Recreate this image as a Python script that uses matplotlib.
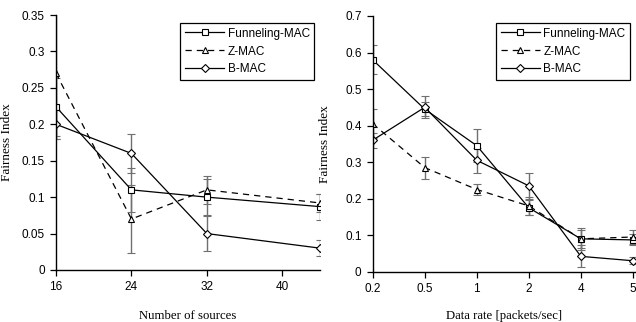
import matplotlib
matplotlib.use("Agg")
import matplotlib.pyplot as plt

# left panel: fairness vs number of sources
sources = [16, 24, 32, 44]
src_funnel = [0.224, 0.110, 0.100, 0.087]
src_funnel_err = [0.040, 0.030, 0.025, 0.018]
src_zmac = [0.270, 0.070, 0.110, 0.092]
src_zmac_err = [0.090, 0.047, 0.019, 0.012]
src_bmac = [0.200, 0.160, 0.050, 0.030]
src_bmac_err = [0.020, 0.027, 0.024, 0.011]

# right panel: fairness vs data rate
rates = ["0.2", "0.5", "1", "2", "4", "5"]
rate_funnel = [0.580, 0.445, 0.345, 0.175, 0.090, 0.087]
rate_funnel_err = [0.040, 0.020, 0.045, 0.020, 0.030, 0.015]
rate_zmac = [0.405, 0.285, 0.225, 0.180, 0.090, 0.095]
rate_zmac_err = [0.040, 0.030, 0.015, 0.025, 0.025, 0.020]
rate_bmac = [0.360, 0.450, 0.305, 0.235, 0.042, 0.030]
rate_bmac_err = [0.020, 0.030, 0.035, 0.035, 0.030, 0.010]

labels = ["Funneling-MAC", "Z-MAC", "B-MAC"]
markers = ["s", "^", "D"]
styles = ["-", (0, (5, 4)), "-"]
msizes = [4.5, 5, 4]

SANS = "Liberation Sans"
SERIF = "Liberation Serif"


def draw_series(ax, x, y, err, marker, ls, ms, label):
    eb = ax.errorbar(x, y, yerr=err, color="black", lw=0.9, ls=ls,
                     marker=marker, ms=ms, mfc="white", mec="black", mew=0.8,
                     ecolor="#707070", elinewidth=1.0, capsize=3, capthick=1.0,
                     label=label)
    for cap in eb[1]:
        cap.set_color("black")
    return eb


def style_axes(ax):
    ax.spines["top"].set_visible(False)
    ax.spines["right"].set_visible(False)
    ax.spines["left"].set_linewidth(1.0)
    ax.spines["bottom"].set_linewidth(1.0)
    ax.tick_params(direction="out", length=4, width=0.9, pad=4, labelsize=8.5)
    for t in ax.get_xticklabels() + ax.get_yticklabels():
        t.set_fontfamily(SANS)


fig = plt.figure(figsize=(6.36, 3.22), dpi=100)
ax1 = fig.add_axes([56 / 636, 1 - 270 / 322, 264 / 636, 255 / 322])
ax2 = fig.add_axes([372.7 / 636, 1 - 271.7 / 322, 263.3 / 636, 255.7 / 322])

for vals, errs, m, ls, ms, lab in zip([src_funnel, src_zmac, src_bmac],
                                      [src_funnel_err, src_zmac_err, src_bmac_err],
                                      markers, styles, msizes, labels):
    draw_series(ax1, sources, vals, errs, m, ls, ms, lab)

xi = list(range(len(rates)))
for vals, errs, m, ls, ms, lab in zip([rate_funnel, rate_zmac, rate_bmac],
                                      [rate_funnel_err, rate_zmac_err, rate_bmac_err],
                                      markers, styles, msizes, labels):
    draw_series(ax2, xi, vals, errs, m, ls, ms, lab)

ax1.set_xlim(16, 44)
ax1.set_ylim(0, 0.35)
ax1.set_xticks([16, 24, 32, 40])
ax1.set_yticks([0, 0.05, 0.1, 0.15, 0.2, 0.25, 0.3, 0.35])
ax1.set_yticklabels(["0", "0.05", "0.1", "0.15", "0.2", "0.25", "0.3", "0.35"])

ax2.set_xlim(0, 5.06)
ax2.set_ylim(0, 0.7)
ax2.set_xticks(xi)
ax2.set_xticklabels(rates)
ax2.set_yticks([0, 0.1, 0.2, 0.3, 0.4, 0.5, 0.6, 0.7])
ax2.set_yticklabels(["0", "0.1", "0.2", "0.3", "0.4", "0.5", "0.6", "0.7"])

for ax in (ax1, ax2):
    style_axes(ax)
    ax.set_ylabel("Fairness Index", fontfamily=SERIF, fontsize=9.5)

ax1.set_xlabel("Number of sources", fontfamily=SERIF, fontsize=9.2)
ax2.set_xlabel("Data rate [packets/sec]", fontfamily=SERIF, fontsize=9.2)
ax1.yaxis.set_label_coords(-0.163, 0.5)
ax2.yaxis.set_label_coords(-0.158, 0.5)
ax1.xaxis.set_label_coords(0.5, -0.157)
ax2.xaxis.set_label_coords(0.5, -0.15)

for ax, anchor in ((ax1, (0.471, 0.969)), (ax2, (0.468, 0.973))):
    handles, labs = ax.get_legend_handles_labels()
    handles = [h[0] for h in handles]
    leg = ax.legend(handles, labs, loc="upper left", bbox_to_anchor=anchor,
                    borderaxespad=0, fancybox=False, framealpha=1,
                    edgecolor="black", handlelength=3.3, handletextpad=0.3,
                    borderpad=0.4, labelspacing=0.5,
                    prop={"family": SANS, "size": 8.5})
    leg.get_frame().set_linewidth(0.9)

fig.savefig("out.png", dpi=100)
